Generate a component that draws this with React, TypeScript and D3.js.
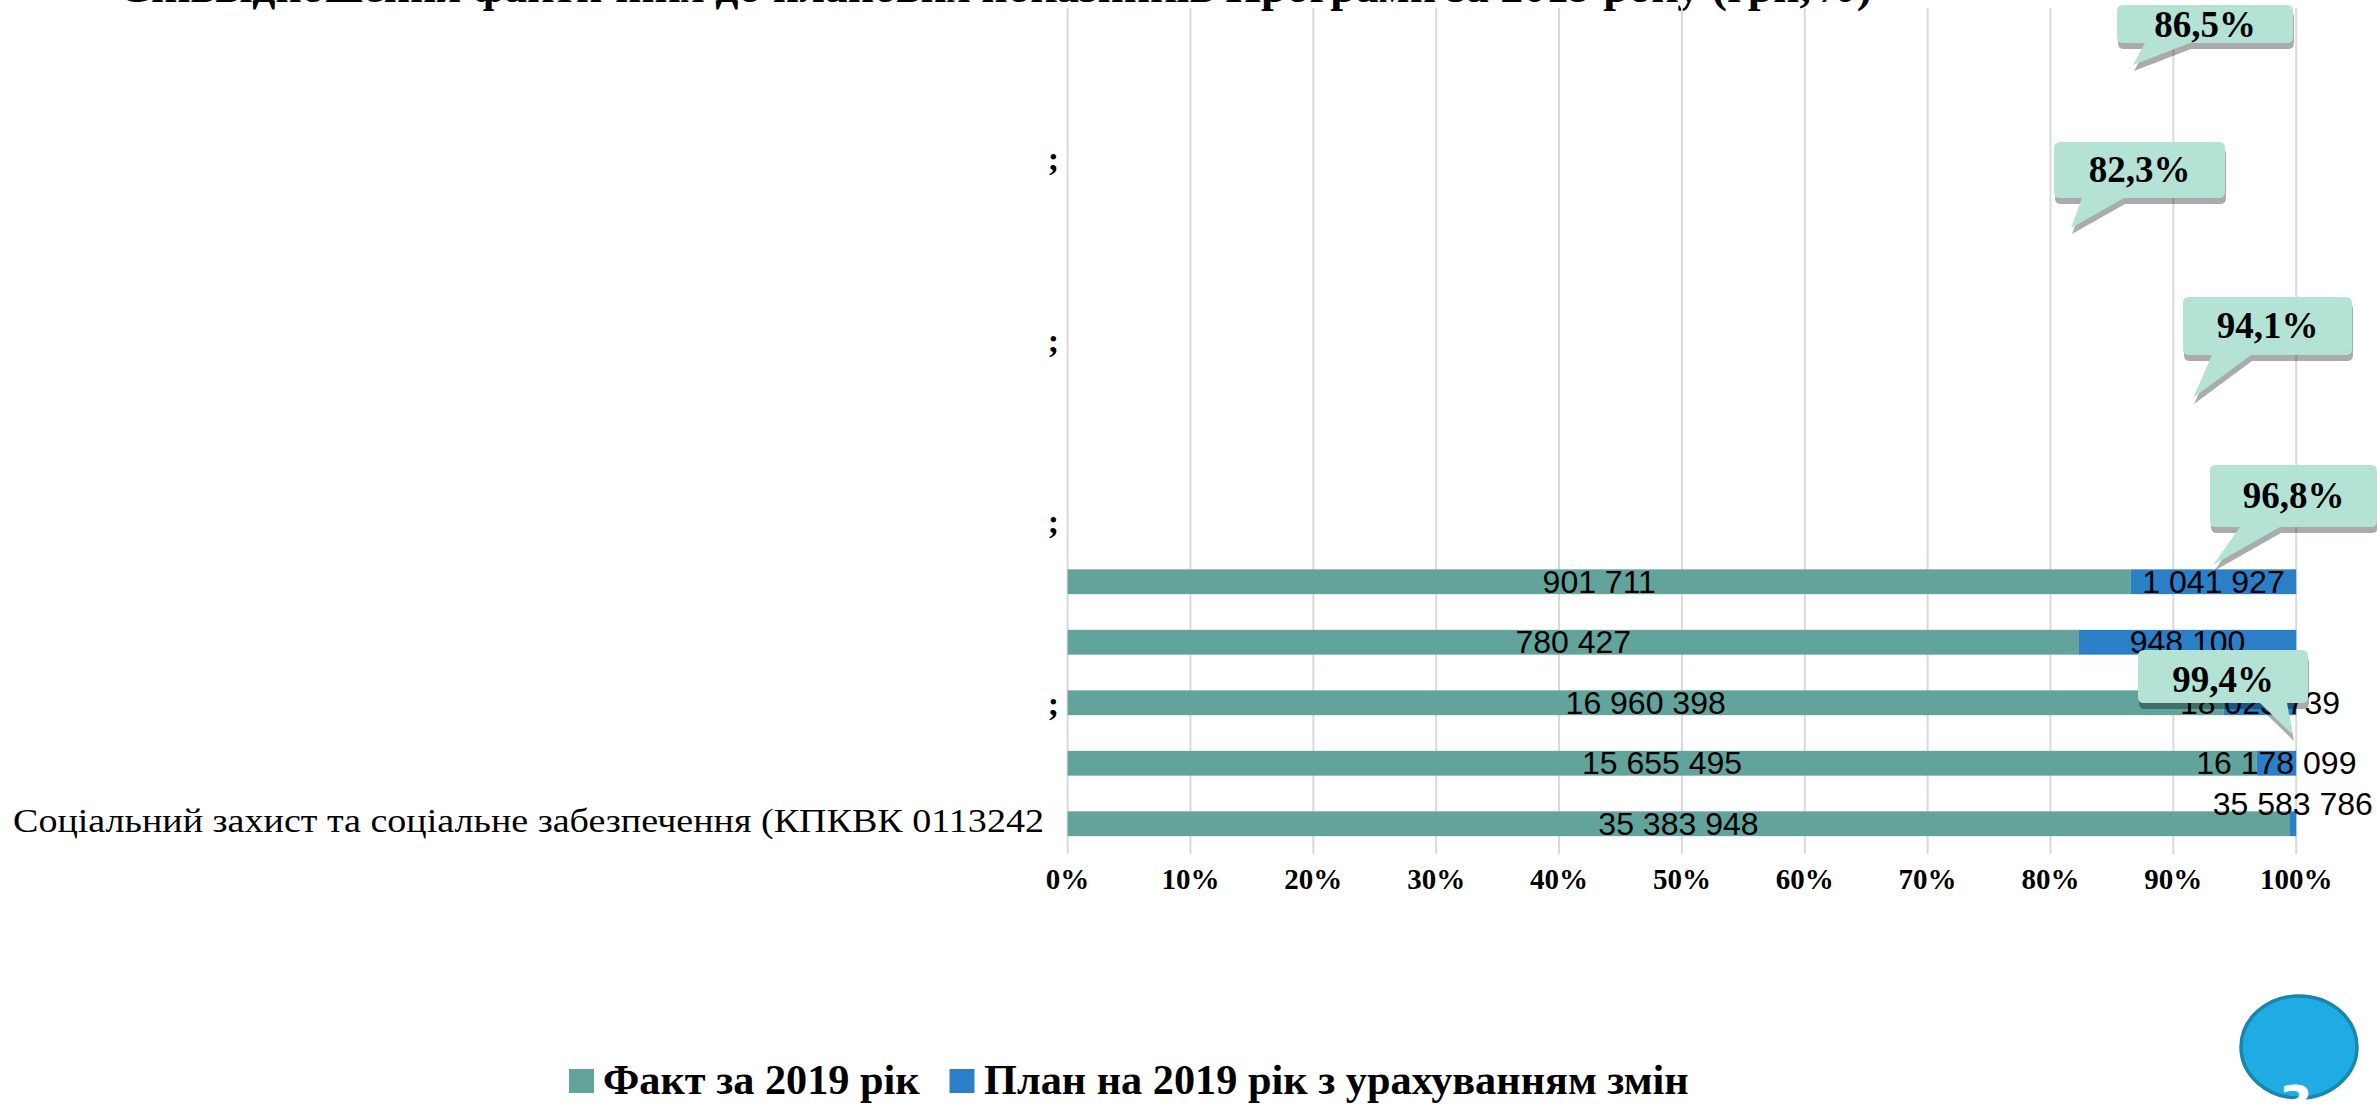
import React, { useEffect } from "react";
import * as d3 from "d3";

// ---------- data (bottom category first) ----------
const categoryLabels = [
  "Соціальний захист та соціальне забезпечення (КПКВК 0113242",
  "",
  ";",
  "",
  "",
  ";",
  "",
  "",
  ";",
  "",
  "",
  ";",
  "",
  "",
];
const factValues: (number | null)[] = [35383948, 15655495, 16960398, 780427, 901711, null, null, null, null, null, null, null, null, null];
const planValues: (number | null)[] = [35583786, 16178099, 18023739, 948100, 1041927, null, null, null, null, null, null, null, null, null];
const seriesNames = ["Факт за 2019 рік", "План на 2019 рік з урахуванням змін"];
const xTicks = [0, 0.1, 0.2, 0.3, 0.4, 0.5, 0.6, 0.7, 0.8, 0.9, 1.0];
const titleText = "Співвідношення фактичних до планових показників Програми за 2019 року (грн,%)";
const slideNumber = "3";

// ---------- layout / style ----------
const W = 2377;
const H = 1104;
const PLOT = { left: 1067.6, right: 2296.2, top: 7, bottom: 854 };
const COLORS = { fact: "#62a39c", plan: "#2a7fc6", grid: "#d9d9d9", callout: "#b4e3d6" };
const SERIF = "'Liberation Serif', 'Times New Roman', serif";
const SANS = "'Liberation Sans', Arial, sans-serif";

// callout layout (pixel geometry of annotation boxes), keyed by bar index
const CALLOUT_LAYOUT = [
  { bar: 4, x: 2117, y: 5, w: 176, h: 38, tipX: 2133, tipY: 65, b0: 2145, b1: 2190, textY: 37 },
  { bar: 3, x: 2054, y: 142, w: 171, h: 56, tipX: 2071, tipY: 228, b0: 2082, b1: 2124, textY: 182 },
  { bar: 2, x: 2183, y: 297, w: 169, h: 58, tipX: 2193, tipY: 398, b0: 2212, b1: 2251, textY: 338 },
  { bar: 1, x: 2210, y: 465, w: 167, h: 62, tipX: 2213, tipY: 565, b0: 2240, b1: 2280, textY: 508 },
  { bar: 0, x: 2138, y: 650, w: 170, h: 53, tipX: 2293, tipY: 735, b0: 2260, b1: 2287, textY: 692 },
];
// vertical shift for specific plan labels (overlap avoidance as in the original)
const PLAN_LABEL_SHIFT: Record<number, number> = { 0: -20 };

const fmtNum = (v: number) => d3.format(",")(v).replace(/,/g, " ");
const fmtPct = (v: number) => d3.format(".1f")(v * 100).replace(".", ",") + "%";

function calloutPath(c: typeof CALLOUT_LAYOUT[number]) {
  const r = 6;
  const x0 = c.x, y0 = c.y, x1 = c.x + c.w, y1 = c.y + c.h;
  return `M${x0 + r},${y0} H${x1 - r} Q${x1},${y0} ${x1},${y0 + r} V${y1 - r} Q${x1},${y1} ${x1 - r},${y1} H${c.b1} L${c.tipX},${c.tipY} L${c.b0},${y1} H${x0 + r} Q${x0},${y1} ${x0},${y1 - r} V${y0 + r} Q${x0},${y0} ${x0 + r},${y0} Z`;
}

export default function App() {
  useEffect(() => {
    document.body.style.margin = "0";
    document.body.style.overflow = "hidden";
  }, []);

  const idx = categoryLabels.map((_, i) => i);
  const x = d3.scaleLinear().domain([0, 1]).range([PLOT.left, PLOT.right]);
  const y = d3
    .scaleBand<number>()
    .domain(idx.slice().reverse())
    .range([PLOT.top, PLOT.bottom])
    .paddingInner(0.59)
    .paddingOuter(0.295);
  const bw = y.bandwidth();
  const center = (i: number) => (y(i) as number) + bw / 2;

  const bars = idx
    .filter((i) => factValues[i] != null && planValues[i] != null)
    .map((i) => {
      const f = factValues[i] as number;
      const p = planValues[i] as number;
      return { i, f, p, ratio: f / p };
    });

  return (
    <svg width={W} height={H} style={{ display: "block", background: "#fff" }}>
      {/* title (partly cut off at top) */}
      <text x={118} y={2} fontFamily={SERIF} fontWeight="bold" fontSize={44} textLength={1754} lengthAdjust="spacingAndGlyphs" fill="#000">
        {titleText}
      </text>

      {/* gridlines */}
      {xTicks.map((t) => (
        <line key={t} x1={x(t)} x2={x(t)} y1={PLOT.top + 1} y2={PLOT.bottom} stroke={COLORS.grid} strokeWidth={2} />
      ))}

      {/* category labels */}
      {idx.map((i) =>
        categoryLabels[i] ? (
          i === 0 ? (
            <text key={i} x={1044} y={center(i) + 8} textAnchor="end" fontFamily={SERIF} fontSize={34} textLength={1031} lengthAdjust="spacingAndGlyphs" fill="#000">
              {categoryLabels[i]}
            </text>
          ) : (
            <text key={i} x={1059} y={center(i) + 12} textAnchor="end" fontFamily={SERIF} fontWeight="bold" fontSize={34} fill="#000">
              {categoryLabels[i]}
            </text>
          )
        ) : null
      )}

      {/* bars */}
      {bars.map((b) => (
        <g key={b.i}>
          <rect x={x(0)} y={y(b.i)} width={x(b.ratio) - x(0)} height={bw} fill={COLORS.fact} />
          <rect x={x(b.ratio)} y={y(b.i)} width={x(1) - x(b.ratio)} height={bw} fill={COLORS.plan} />
        </g>
      ))}

      {/* value labels */}
      {bars.map((b) => (
        <g key={"l" + b.i} fontFamily={SANS} fontSize={32} fill="#000" textAnchor="middle">
          <text x={x(b.ratio / 2)} y={center(b.i) + 11}>{fmtNum(b.f)}</text>
          <text x={x((b.ratio + 1) / 2)} y={center(b.i) + 11 + (PLAN_LABEL_SHIFT[b.i] || 0)}>{fmtNum(b.p)}</text>
        </g>
      ))}

      {/* x tick labels */}
      {xTicks.map((t) => (
        <text key={"t" + t} x={x(t)} y={889} textAnchor="middle" fontFamily={SERIF} fontWeight="bold" fontSize={29} fill="#000">
          {d3.format(".0%")(t)}
        </text>
      ))}

      {/* callouts */}
      {CALLOUT_LAYOUT.map((c) => {
        const b = bars.find((d) => d.i === c.bar)!;
        const d = calloutPath(c);
        return (
          <g key={"c" + c.bar}>
            <path d={d} transform="translate(1,6)" fill="#000" opacity={0.33} />
            <path d={d} fill={COLORS.callout} />
            <text x={c.x + c.w / 2} y={c.textY} textAnchor="middle" fontFamily={SERIF} fontWeight="bold" fontSize={37} fill="#000">
              {fmtPct(b.ratio)}
            </text>
          </g>
        );
      })}

      {/* legend */}
      <g fontFamily={SERIF} fontWeight="bold" fontSize={42.3} fill="#000">
        <rect x={569} y={1069} width={25} height={24} fill={COLORS.fact} />
        <text x={603} y={1094}>{seriesNames[0]}</text>
        <rect x={949.5} y={1069} width={25} height={24} fill={COLORS.plan} />
        <text x={984} y={1094}>{seriesNames[1]}</text>
      </g>

      {/* slide number bubble */}
      <ellipse cx={2299} cy={1047} rx={58} ry={51} fill="#1eace3" stroke="#1b86ad" strokeWidth={3.5} />
      <text x={2296} y={1120} textAnchor="middle" fontFamily="'DejaVu Sans', sans-serif" fontWeight="bold" fontSize={48} fill="#fff">
        {slideNumber}
      </text>
    </svg>
  );
}
